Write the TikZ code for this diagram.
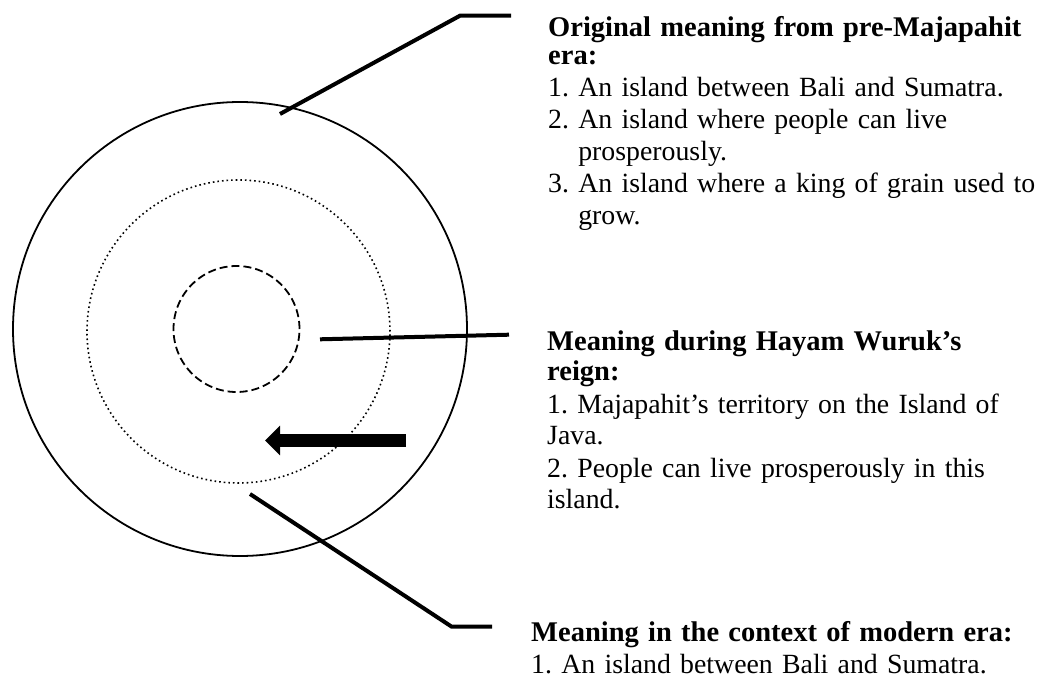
\documentclass[tikz,border=0pt]{standalone}
\usepackage{fontspec}
\setmainfont{Liberation Serif}
\usepackage{tikz}
\usetikzlibrary{arrows.meta}
\newcommand{\heading}[1]{{\fontsize{28.5}{32}\selectfont\bfseries #1}}

\begin{document}
\begin{tikzpicture}[
  x=1pt, y=-1pt,
  ring/.style={draw, circle, line width=1.8pt, inner sep=0pt},
  leader/.style={line width=4pt},
  bigarrow/.style={line width=13.5pt, -{Triangle[length=15pt, width=29pt]}},
  meaning/.style={anchor=base west, inner sep=0pt, text width=510pt, align=left,
    font=\fontsize{27.8}{32}\selectfont\frenchspacing}
]
  \useasboundingbox (0,0) rectangle (1045,679);

  % Circles
  \node[ring, minimum size=454pt] (outer) at (240,329) {};
  \node[ring, minimum size=303pt, line width=1.6pt, dash pattern=on 1.6pt off 3pt] (middle) at (238.5,331.5) {};
  \node[ring, minimum size=126pt, dash pattern=on 8pt off 4pt] (inner) at (236.5,329) {};

  % Texts
  \node[meaning] (premaj) at (548,36.7) {\heading{Original meaning from pre-Majapahit}\\[-4pt]
    \heading{era:}\\
    1. An island between Bali and Sumatra.\\
    2. An island where people can live\\
    \hphantom{2. }prosperously.\\
    3. An island where a king of grain used to\\
    \hphantom{3. }grow.};
  \node[meaning] (hayam) at (547,350) {\heading{Meaning during Hayam Wuruk's}\\[-2pt]
    \heading{reign:}\\[1pt]
    1. Majapahit's territory on the Island of\\
    Java.\\
    2. People can live prosperously in this\\
    island.};
  \node[meaning] (modern) at (531,641.7) {\heading{Meaning in the context of modern era:}\\
    1. An island between Bali and Sumatra.};

  % Leader lines
  \coordinate (topin) at (280,114);
  \coordinate (topbend) at (460,15.7);
  \coordinate (topend) at (511,15.7);
  \coordinate (midin) at (320,339.3);
  \coordinate (midend) at (509,334.7);
  \coordinate (botin) at (250,494);
  \coordinate (botbend) at (451.7,626.7);
  \coordinate (botend) at (492,626.7);
  \draw[leader] (topin) -- (topbend) -- (topend);
  \draw[leader] (midin) -- (midend);
  \draw[leader] (botin) -- (botbend) -- (botend);

  % Arrow
  \coordinate (arrowtail) at (406,440.5);
  \coordinate (arrowtip) at (265,440.5);
  \draw[bigarrow] (arrowtail) -- (arrowtip);
\end{tikzpicture}
\end{document}
